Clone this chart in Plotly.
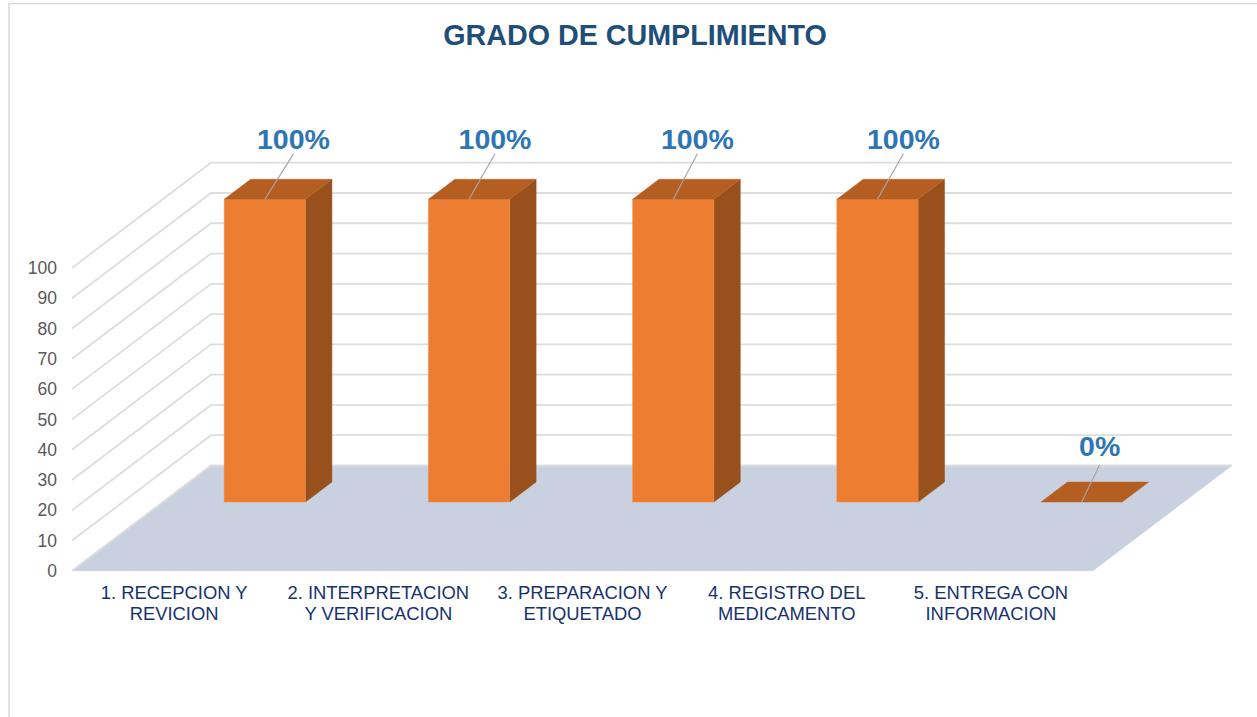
import plotly.graph_objects as go

# ---- data ----
CATEGORY_LINE_1 = ["1. RECEPCION Y", "2. INTERPRETACION", "3. PREPARACION Y", "4. REGISTRO DEL", "5. ENTREGA CON"]
CATEGORY_LINE_2 = ["REVICION", "Y VERIFICACION", "ETIQUETADO", "MEDICAMENTO", "INFORMACION"]
VALUES = [100, 100, 100, 100, 0]
VALUE_TICKS = [0, 10, 20, 30, 40, 50, 60, 70, 80, 90, 100]
TITLE = "GRADO DE CUMPLIMIENTO"

# ---- manual label placement (chart units) ----
LABEL_SHIFT_X = [0.14, 0.127, 0.118, 0.127, 0.088]
LEADER_RISE = [15, 15, 15, 15, 12.3]
LABEL_GAP = [4.1, 4.1, 4.1, 4.1, 5.3]

# ---- oblique 3D projection expressed in axis units ----
W, H = 1257, 717
X0_PX, Y0_PX = 72, 570.8
CAT_PX, VAL_PX = 204.2, 3.028
DEPTH_X, DEPTH_Y = 139 / CAT_PX, 105.3 / VAL_PX
BAR_W = 0.398
BAR_FRONT, BAR_BACK = 0.653, 0.843


def project(c, v, d):
    return c + d * DEPTH_X, v + d * DEPTH_Y


def poly(points, fill, line=None, lw=0.5):
    xs, ys = zip(*[project(*p) for p in points + points[:1]])
    return go.Scatter(x=xs, y=ys, mode="lines", fill="toself", fillcolor=fill,
                      line=dict(color=line or fill, width=lw), hoverinfo="skip", showlegend=False)


n = len(VALUES)
fig = go.Figure()

# floor
fig.add_trace(poly([(0, 0, 0), (n, 0, 0), (n, 0, 1), (0, 0, 1)], "#c9d1e1", "#c9d1e1"))

# gridlines on side wall and back wall
for v in VALUE_TICKS:
    xs, ys = zip(*[project(*p) for p in [(0, v, 0), (0, v, 1), (n, v, 1)]])
    fig.add_trace(go.Scatter(x=xs, y=ys, mode="lines", line=dict(color="#dddddd", width=1.8),
                             hoverinfo="skip", showlegend=False))

# bars
for i, v in enumerate(VALUES):
    l, r = i + 0.5 - BAR_W / 2, i + 0.5 + BAR_W / 2
    f, b = BAR_FRONT, BAR_BACK
    if v > 0:
        fig.add_trace(poly([(r, 0, f), (r, 0, b), (r, v, b), (r, v, f)], "#98501c"))
        fig.add_trace(poly([(l, 0, f), (r, 0, f), (r, v, f), (l, v, f)], "#ed7d31", "#ee8a48"))
    fig.add_trace(poly([(l, v, f), (r, v, f), (r, v, b), (l, v, b)], "#b55e22", "#b9652c"))

# leader lines and data labels
for i, v in enumerate(VALUES):
    x1, y1 = project(i + 0.5, v, BAR_FRONT)
    x2, y2 = x1 + LABEL_SHIFT_X[i], y1 + LEADER_RISE[i]
    fig.add_trace(go.Scatter(x=[x1, x2], y=[y1, y2], mode="lines", line=dict(color="#a6a6a6", width=1.2),
                             hoverinfo="skip", showlegend=False))
    fig.add_trace(go.Scatter(x=[x2], y=[y2 + LABEL_GAP[i]], mode="text", text=[f"{v}%"], textposition="middle center",
                             textfont=dict(family="Liberation Sans", size=28.5, color="#2e75b6", weight="bold"),
                             cliponaxis=False, hoverinfo="skip", showlegend=False))

# carrier for the second line of category labels
fig.add_trace(go.Scatter(x=[None], y=[None], xaxis="x2", yaxis="y", mode="lines", hoverinfo="skip", showlegend=False))

x_range = [-X0_PX / CAT_PX, (W - X0_PX) / CAT_PX]
y_range = [-(H - Y0_PX) / VAL_PX, Y0_PX / VAL_PX]
axis_pos_x = X0_PX / W
axis_pos_y = (H - Y0_PX) / H
cat_font = dict(family="Liberation Sans", size=18.4, color="#16326e")
cat_ticks = [i + 0.5 for i in range(n)]
x_common = dict(range=x_range, domain=[0, 1], showgrid=False, zeroline=False, showline=False,
                anchor="free", position=axis_pos_y, tickmode="array", tickvals=cat_ticks,
                ticks="", tickangle=0, tickfont=cat_font, fixedrange=True)

fig.update_layout(
    width=W, height=H, margin=dict(l=0, r=0, t=0, b=0),
    paper_bgcolor="white", plot_bgcolor="white", showlegend=False,
    title=dict(text=f"<b>{TITLE}</b>", x=635 / W, xanchor="center", y=1 - 35 / H, yanchor="middle",
               font=dict(family="Liberation Sans", size=28.7, color="#1f4e79")),
    xaxis=dict(ticktext=CATEGORY_LINE_1, ticklabelstandoff=9, **x_common),
    xaxis2=dict(ticktext=CATEGORY_LINE_2, overlaying="x", side="bottom", ticklabelstandoff=30, **x_common),
    yaxis=dict(range=y_range, domain=[0, 1], showgrid=False, zeroline=False, showline=False,
               anchor="free", position=axis_pos_x, tickmode="array", tickvals=VALUE_TICKS, ticks="",
               ticklabelstandoff=15, tickfont=dict(family="Liberation Sans", size=17.5, color="#595959"),
               fixedrange=True),
    shapes=[
        dict(type="line", xref="paper", yref="paper", x0=9 / W, x1=1, y0=1 - 3.5 / H, y1=1 - 3.5 / H,
             line=dict(color="#d9d9d9", width=1.5)),
        dict(type="line", xref="paper", yref="paper", x0=9 / W, x1=9 / W, y0=0, y1=1 - 3.5 / H,
             line=dict(color="#d9d9d9", width=1.5)),
    ],
)

fig.write_html("out.html", config={"displayModeBar": False},
               post_script="document.body.style.margin='0';document.body.style.overflow='hidden';")
